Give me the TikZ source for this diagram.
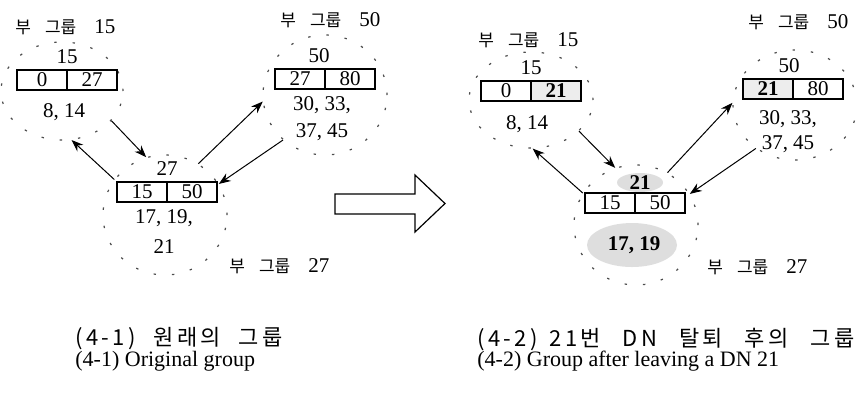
\documentclass[tikz,border=0pt]{standalone}
\usepackage{fontspec}
\setmainfont{Liberation Serif}
\newfontfamily\kr{Noto Sans CJK KR}
\newfontfamily\krcap[LetterSpace=15]{Noto Sans CJK KR}
\usetikzlibrary{arrows.meta,positioning,shapes.geometric}
\newcommand{\subgrp}[1]{{\kr 부}\hspace{7pt}{\kr 그룹}\hspace{9pt}{\fontsize{10.5}{12}\selectfont #1}}

\begin{document}
\begin{tikzpicture}[
    x=0.5pt, y=-0.5pt,
    grp/.style={ellipse, draw=black!70, line width=0.6pt, dash pattern=on 1.2pt off 8pt},
    cell/.style={rectangle, draw, line width=0.6pt, minimum width=25pt, minimum height=10pt,
                 inner sep=0pt, outer sep=0pt, font=\fontsize{10.5}{12}\selectfont},
    num/.style={inner sep=1pt, align=center, font=\fontsize{10.5}{13.5}\selectfont},
    tag/.style={inner sep=0pt, anchor=west, font=\fontsize{8.5}{10}\selectfont},
    captxt/.style={inner sep=0pt, anchor=west, font=\fontsize{11}{13}\selectfont},
    hl/.style={ellipse, fill=black!13, inner sep=0pt},
    link/.style={-{Stealth[length=6pt,width=4.5pt]}, line width=0.5pt}
]
\useasboundingbox (0,0) rectangle (856,404);

% original group
\node[grp, minimum width=61pt, minimum height=49pt] (g15a) at (62,91) {};
\node[grp, minimum width=62pt, minimum height=60pt] (g50a) at (325,95) {};
\node[grp, minimum width=62pt, minimum height=60pt] (g27a) at (165,215) {};

\node[cell] (g15a-l) at (42,80) {0};
\node[cell, right=0pt of g15a-l] (g15a-r) {27};
\node[num, above=2pt of g15a-l.north east] (g15a-h) {15};
\node[num] (g15a-m) at (64,112) {8, 14};

\node[cell] (g50a-l) at (300,79) {27};
\node[cell, right=0pt of g50a-l] (g50a-r) {80};
\node[num, above=2pt of g50a-l.north east, xshift=-3pt] (g50a-h) {50};
\node[num] (g50a-m) at (322,119) {30, 33,\\37, 45};

\node[cell] (g27a-l) at (142,192) {15};
\node[cell, right=0pt of g27a-l] (g27a-r) {50};
\node[num, above=2pt of g27a-l.north east] (g27a-h) {27};
\node[num, font=\fontsize{10.5}{15}\selectfont] (g27a-m) at (164,232) {17, 19,\\21};

\node[tag] (t15a) at (15,27) {\subgrp{15}};
\node[tag] (t50a) at (280,20) {\subgrp{50}};
\node[tag] (t27a) at (229,266) {\subgrp{27}};

\draw[link] (g15a.-31) -- (g27a.108);
\draw[link] (g27a.145) -- (g15a.-79);
\draw[link] (g27a.57) -- (g50a.186);
\draw[link] (g50a.-133) -- (g27a.30);

\draw[line width=0.6pt] (335,194) -- (415,194) -- (415,175) -- (445,203.5)
    -- (415,232) -- (415,214) -- (335,214) -- cycle;

% group after leaving
\node[grp, minimum width=62pt, minimum height=48pt] (g15b) at (531,100) {};
\node[grp, minimum width=62pt, minimum height=55pt] (g50b) at (795,105) {};
\node[grp, minimum width=62pt, minimum height=60pt] (g27b) at (636,225) {};

\node[cell] (g15b-l) at (506,91) {0};
\node[cell, fill=black!7, right=0pt of g15b-l] (g15b-r) {\bfseries 21};
\node[num, above=2pt of g15b-l.north east] (g15b-h) {15};
\node[num] (g15b-m) at (527,124) {8, 14};

\node[cell, fill=black!7] (g50b-l) at (768,89) {\bfseries 21};
\node[cell, right=0pt of g50b-l] (g50b-r) {80};
\node[num, above=2pt of g50b-l.north east, xshift=-2pt] (g50b-h) {50};
\node[num, font=\fontsize{10.5}{12.5}\selectfont] (g50b-m) at (788,132) {30, 33,\\37, 45};

\node[hl, minimum width=23pt, minimum height=9.5pt] (g27b-hb) at (640,182.5) {};
\node[hl, minimum width=45pt, minimum height=22pt] (g27b-mb) at (632,245) {};
\node[cell] (g27b-l) at (610,203) {15};
\node[cell, right=0pt of g27b-l] (g27b-r) {50};
\node[num, font=\fontsize{10.5}{12}\bfseries] (g27b-h) at (g27b-hb) {21};
\node[num, font=\fontsize{10.5}{12}\bfseries] (g27b-m) at (634,245) {17, 19};

\node[tag] (t15b) at (478,40) {\subgrp{15}};
\node[tag] (t50b) at (748,22) {\subgrp{50}};
\node[tag] (t27b) at (707,267) {\subgrp{27}};

\draw[link] (g15b.-33) -- (g27b.110);
\draw[link] (g27b.149) -- (g15b.-88);
\draw[link] (g27b.59) -- (g50b.178);
\draw[link] (g50b.-132) -- (g27b.30);

% captions
\node[captxt] (c1k) at (75,339) {\krcap (4-1)\hspace{9pt}원래의\hspace{9pt}그룹};
\node[captxt] (c1e) at (75,361) {(4-1) Original group};
\node[captxt] (c2k) at (477,339) {\krcap (4-2)\hspace{6pt}21번\hspace{11pt}DN\hspace{11pt}탈퇴\hspace{11pt}후의\hspace{11pt}그룹};
\node[captxt] (c2e) at (477,361) {(4-2) Group after leaving a DN 21};
\end{tikzpicture}
\end{document}
